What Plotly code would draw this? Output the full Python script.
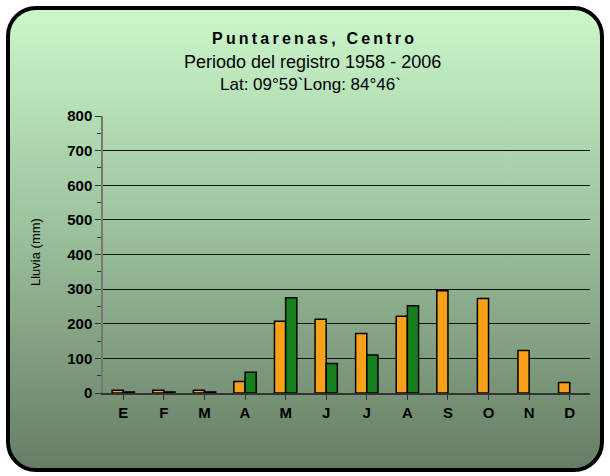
import base64
import plotly.graph_objects as go

meses = ["E", "F", "M", "A", "M", "J", "J", "A", "S", "O", "N", "D"]
lluvia_orange = [8, 8, 8, 33, 207, 213, 172, 222, 295, 273, 123, 30]
lluvia_green = [3, 3, 3, 60, 275, 85, 110, 252, None, None, None, None]
y_ticks = [0, 100, 200, 300, 400, 500, 600, 700, 800]

W, H = 610, 476
L, R, T, B = 103, 20, 116, 83
pw, ph = W - L - R, H - T - B

svg = f"""<svg xmlns='http://www.w3.org/2000/svg' width='{W}' height='{H}'>
<defs><linearGradient id='g' x1='0' y1='0' x2='0' y2='1'>
<stop offset='0' stop-color='#cbf8cb'/><stop offset='0.45' stop-color='#9fc59f'/>
<stop offset='1' stop-color='#667d66'/></linearGradient></defs>
<rect x='0' y='0' width='{W}' height='{H}' fill='white'/>
<rect x='8' y='8' width='{W-16}' height='{H-14}' rx='28' ry='28' fill='url(#g)' stroke='black' stroke-width='4'/>
</svg>"""
src = "data:image/svg+xml;base64," + base64.b64encode(svg.encode()).decode()

x = list(range(12))
fig = go.Figure()
fig.add_trace(go.Bar(x=x, y=lluvia_orange, marker=dict(color="#f9a01b", line=dict(color="black", width=1.5))))
fig.add_trace(go.Bar(x=x, y=lluvia_green, marker=dict(color="#16801c", line=dict(color="black", width=1.5))))


def txt(text, px, py, size, **kw):
    # position given in page pixels
    return dict(text=text, xref="paper", yref="paper", x=(px - L) / pw, y=(H - B - py) / ph,
                xanchor="center", yanchor="middle", showarrow=False, font=dict(size=size), **kw)


title = "\u2009".join("Puntarenas, Centro")
fig.update_layout(
    width=W, height=H,
    margin=dict(l=L, r=R, t=T, b=B),
    paper_bgcolor="white", plot_bgcolor="rgba(0,0,0,0)",
    barmode="group", bargap=0.45, bargroupgap=0.0,
    showlegend=False,
    font=dict(family="Liberation Sans, Arial", color="black"),
    images=[dict(source=src, xref="paper", yref="paper", x=-L / pw, y=1 + T / ph,
                 sizex=W / pw, sizey=H / ph, sizing="stretch", layer="below",
                 xanchor="left", yanchor="top")],
    annotations=[
        txt(f"<b>{title}</b>", 313, 38, 16),
        txt("Periodo del registro 1958 - 2006", 312, 62, 18),
        txt("Lat: 09°59`Long: 84°46`", 310, 85, 17),
        txt("Lluvia (mm)", 35, 252, 13, textangle=-90),
    ],
)
fig.update_xaxes(
    tickmode="array", tickvals=x, ticktext=meses, range=[-0.5, 11.5],
    tickfont=dict(size=15, family="Liberation Sans", weight="bold"),
    ticks="outside", tickson="boundaries", ticklen=5, tickcolor="#333",
    showline=True, linecolor="#333", linewidth=1.5, showgrid=False,
)
fig.update_yaxes(
    range=[0, 800], tickvals=y_ticks, showgrid=True, gridcolor="#111", gridwidth=1,
    tickfont=dict(size=15, family="Liberation Sans", weight="bold"),
    ticks="outside", ticklen=6, tickcolor="#333",
    minor=dict(dtick=50, ticks="outside", ticklen=4, tickcolor="#333"),
    showline=True, linecolor="#777", linewidth=1.5, zeroline=False,
)
fig.write_html("out.html", config={"displayModeBar": False},
               post_script="document.body.style.margin='0';")
